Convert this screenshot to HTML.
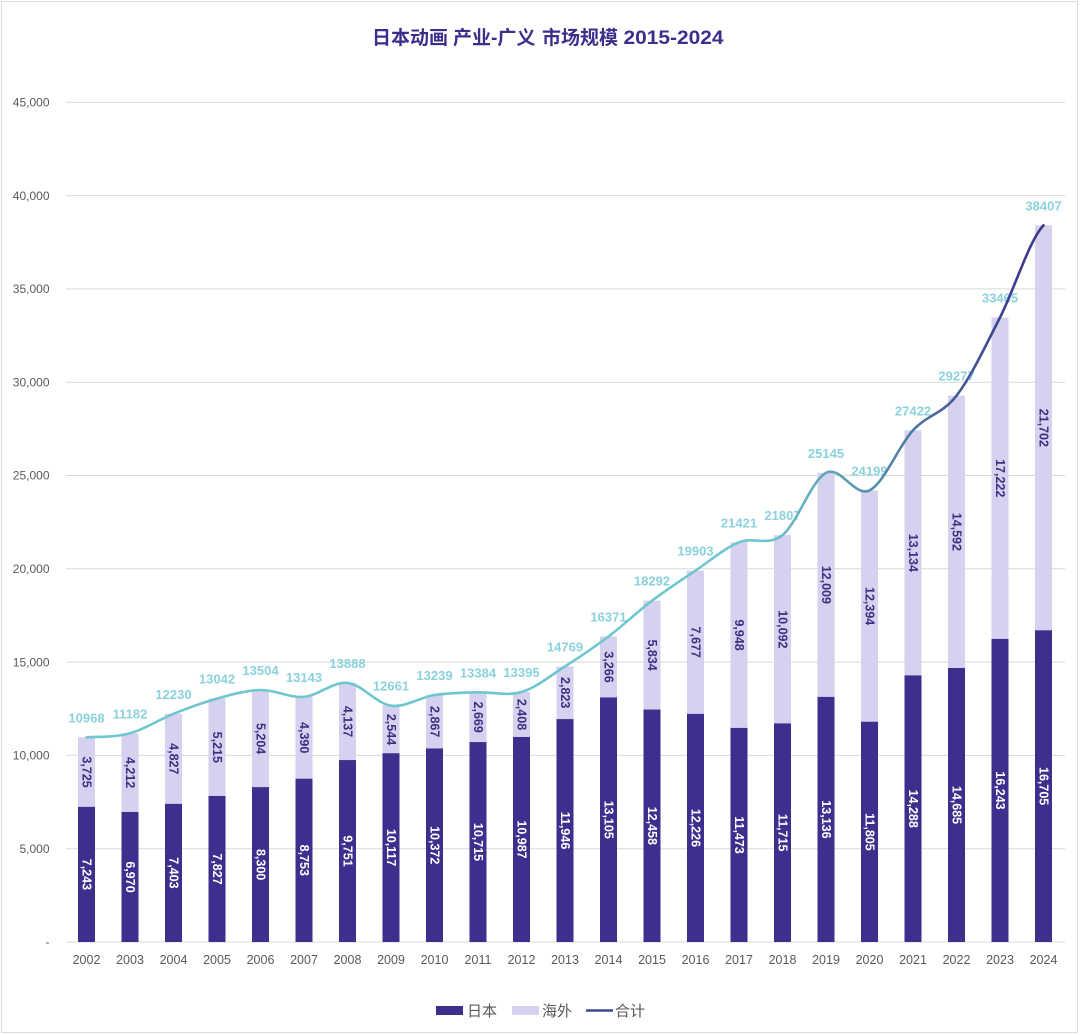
<!DOCTYPE html>
<html><head><meta charset="utf-8"><style>
html,body{margin:0;padding:0;background:#fff;}
svg{display:block;}
text{font-family:"Liberation Sans","Noto Sans CJK SC",sans-serif;}
</style></head><body>
<svg width="1080" height="1035" viewBox="0 0 1080 1035" xmlns="http://www.w3.org/2000/svg">
<defs>
<linearGradient id="lg" gradientUnits="userSpaceOnUse" x1="760" y1="0" x2="1010" y2="0">
<stop offset="0" stop-color="#6fc6cf"/>
<stop offset="0.45" stop-color="#5690ab"/>
<stop offset="1" stop-color="#3c3c8c"/>
</linearGradient>
</defs>
<rect x="0" y="0" width="1080" height="1035" fill="#fff"/>
<rect x="1.5" y="1.5" width="1076" height="1031" fill="none" stroke="#dcdcdc" stroke-width="1"/>

<!-- title -->
<g font-weight="bold" font-size="19" fill="#3b2f8c">
<text x="372" y="44">日本动画</text>
<text x="453" y="44">产业-广义</text>
<text x="542" y="44">市场规模</text>
<text x="623.5" y="44" textLength="100" lengthAdjust="spacingAndGlyphs">2015-2024</text>
</g>

<!-- gridlines -->
<g stroke="#d9d9d9" stroke-width="1">
<line x1="66" y1="102.3" x2="1065" y2="102.3"/>
<line x1="66" y1="195.6" x2="1065" y2="195.6"/>
<line x1="66" y1="288.9" x2="1065" y2="288.9"/>
<line x1="66" y1="382.2" x2="1065" y2="382.2"/>
<line x1="66" y1="475.5" x2="1065" y2="475.5"/>
<line x1="66" y1="568.8" x2="1065" y2="568.8"/>
<line x1="66" y1="662.1" x2="1065" y2="662.1"/>
<line x1="66" y1="755.4" x2="1065" y2="755.4"/>
<line x1="66" y1="848.7" x2="1065" y2="848.7"/>
<line x1="66" y1="942" x2="1065" y2="942"/>
</g>

<!-- y labels -->
<g font-size="12" fill="#595959" text-anchor="end">
<text x="49.5" y="106.5">45,000</text>
<text x="49.5" y="199.8">40,000</text>
<text x="49.5" y="293.1">35,000</text>
<text x="49.5" y="386.4">30,000</text>
<text x="49.5" y="479.7">25,000</text>
<text x="49.5" y="573">20,000</text>
<text x="49.5" y="666.3">15,000</text>
<text x="49.5" y="759.6">10,000</text>
<text x="49.5" y="852.9">5,000</text>
<text x="49.5" y="946">-</text>
</g>

<!-- bars light -->
<g fill="#d5d1ef">
<rect x="78" y="737.3" width="17" height="69.55"/>
<rect x="121.5" y="733.3" width="17" height="78.64"/>
<rect x="165" y="713.8" width="17" height="90.06"/>
<rect x="208.5" y="698.6" width="17" height="97.35"/>
<rect x="252" y="690.0" width="17" height="97.12"/>
<rect x="295.5" y="696.8" width="17" height="81.87"/>
<rect x="339" y="682.9" width="17" height="77.15"/>
<rect x="382.5" y="705.7" width="17" height="47.52"/>
<rect x="426" y="695.0" width="17" height="53.46"/>
<rect x="469.5" y="692.3" width="17" height="49.76"/>
<rect x="513" y="692.0" width="17" height="44.98"/>
<rect x="556.5" y="666.4" width="17" height="52.69"/>
<rect x="600" y="636.5" width="17" height="60.96"/>
<rect x="643.5" y="600.7" width="17" height="108.83"/>
<rect x="687" y="570.6" width="17" height="143.26"/>
<rect x="730.5" y="542.3" width="17" height="185.61"/>
<rect x="774" y="535.1" width="17" height="188.3"/>
<rect x="817.5" y="472.8" width="17" height="224.08"/>
<rect x="861" y="490.4" width="17" height="231.32"/>
<rect x="904.5" y="430.3" width="17" height="245.09"/>
<rect x="948" y="395.7" width="17" height="272.28"/>
<rect x="991.5" y="317.5" width="17" height="321.41"/>
<rect x="1035" y="225.3" width="17" height="404.98"/>
</g>
<!-- bars dark -->
<g fill="#3d2f8e">
<rect x="78" y="806.85" width="17" height="135.15"/>
<rect x="121.5" y="811.94" width="17" height="130.06"/>
<rect x="165" y="803.86" width="17" height="138.14"/>
<rect x="208.5" y="795.95" width="17" height="146.05"/>
<rect x="252" y="787.12" width="17" height="154.88"/>
<rect x="295.5" y="778.67" width="17" height="163.33"/>
<rect x="339" y="760.05" width="17" height="181.95"/>
<rect x="382.5" y="753.22" width="17" height="188.78"/>
<rect x="426" y="748.46" width="17" height="193.54"/>
<rect x="469.5" y="742.06" width="17" height="199.94"/>
<rect x="513" y="736.98" width="17" height="205.02"/>
<rect x="556.5" y="719.09" width="17" height="222.91"/>
<rect x="600" y="697.46" width="17" height="244.54"/>
<rect x="643.5" y="709.53" width="17" height="232.47"/>
<rect x="687" y="713.86" width="17" height="228.14"/>
<rect x="730.5" y="727.91" width="17" height="214.09"/>
<rect x="774" y="723.40" width="17" height="218.6"/>
<rect x="817.5" y="696.88" width="17" height="245.12"/>
<rect x="861" y="721.72" width="17" height="220.28"/>
<rect x="904.5" y="675.39" width="17" height="266.61"/>
<rect x="948" y="667.98" width="17" height="274.02"/>
<rect x="991.5" y="638.91" width="17" height="303.09"/>
<rect x="1035" y="630.28" width="17" height="311.72"/>
</g>

<!-- dark segment labels -->
<g font-size="12.5" font-weight="bold" fill="#ffffff" text-anchor="middle" dominant-baseline="central">
<text transform="translate(86.5,874.4) rotate(90)">7,243</text>
<text transform="translate(130,877.0) rotate(90)">6,970</text>
<text transform="translate(173.5,872.9) rotate(90)">7,403</text>
<text transform="translate(217,869.0) rotate(90)">7,827</text>
<text transform="translate(260.5,864.6) rotate(90)">8,300</text>
<text transform="translate(304,860.3) rotate(90)">8,753</text>
<text transform="translate(347.5,851.0) rotate(90)">9,751</text>
<text transform="translate(391,847.6) rotate(90)">10,117</text>
<text transform="translate(434.5,845.2) rotate(90)">10,372</text>
<text transform="translate(478,842.0) rotate(90)">10,715</text>
<text transform="translate(521.5,839.5) rotate(90)">10,987</text>
<text transform="translate(565,830.5) rotate(90)">11,946</text>
<text transform="translate(608.5,819.7) rotate(90)">13,105</text>
<text transform="translate(652,825.8) rotate(90)">12,458</text>
<text transform="translate(695.5,827.9) rotate(90)">12,226</text>
<text transform="translate(739,835.0) rotate(90)">11,473</text>
<text transform="translate(782.5,832.7) rotate(90)">11,715</text>
<text transform="translate(826,819.4) rotate(90)">13,136</text>
<text transform="translate(869.5,831.9) rotate(90)">11,805</text>
<text transform="translate(913,808.7) rotate(90)">14,288</text>
<text transform="translate(956.5,805.0) rotate(90)">14,685</text>
<text transform="translate(1000,790.5) rotate(90)">16,243</text>
<text transform="translate(1043.5,786.1) rotate(90)">16,705</text>
</g>
<!-- light segment labels -->
<g font-size="12.5" font-weight="bold" fill="#3a3082" text-anchor="middle" dominant-baseline="central">
<text transform="translate(86.5,772.1) rotate(90)">3,725</text>
<text transform="translate(130,772.6) rotate(90)">4,212</text>
<text transform="translate(173.5,758.8) rotate(90)">4,827</text>
<text transform="translate(217,747.3) rotate(90)">5,215</text>
<text transform="translate(260.5,738.6) rotate(90)">5,204</text>
<text transform="translate(304,737.7) rotate(90)">4,390</text>
<text transform="translate(347.5,721.5) rotate(90)">4,137</text>
<text transform="translate(391,729.5) rotate(90)">2,544</text>
<text transform="translate(434.5,721.7) rotate(90)">2,867</text>
<text transform="translate(478,717.2) rotate(90)">2,669</text>
<text transform="translate(521.5,714.5) rotate(90)">2,408</text>
<text transform="translate(565,692.7) rotate(90)">2,823</text>
<text transform="translate(608.5,667.0) rotate(90)">3,266</text>
<text transform="translate(652,655.1) rotate(90)">5,834</text>
<text transform="translate(695.5,642.2) rotate(90)">7,677</text>
<text transform="translate(739,635.1) rotate(90)">9,948</text>
<text transform="translate(782.5,629.3) rotate(90)">10,092</text>
<text transform="translate(826,584.8) rotate(90)">12,009</text>
<text transform="translate(869.5,606.1) rotate(90)">12,394</text>
<text transform="translate(913,552.8) rotate(90)">13,134</text>
<text transform="translate(956.5,531.8) rotate(90)">14,592</text>
<text transform="translate(1000,478.2) rotate(90)">17,222</text>
<text transform="translate(1043.5,427.8) rotate(90)">21,702</text>
</g>

<!-- total labels -->
<g font-size="13" font-weight="bold" fill="#8ad2dc" text-anchor="middle">
<text x="86.5" y="722.3">10968</text>
<text x="130" y="718.3">11182</text>
<text x="173.5" y="698.8">12230</text>
<text x="217" y="683.6">13042</text>
<text x="260.5" y="675.0">13504</text>
<text x="304" y="681.8">13143</text>
<text x="347.5" y="667.9">13888</text>
<text x="391" y="690.7">12661</text>
<text x="434.5" y="680.0">13239</text>
<text x="478" y="677.3">13384</text>
<text x="521.5" y="677.0">13395</text>
<text x="565" y="651.4">14769</text>
<text x="608.5" y="621.5">16371</text>
<text x="652" y="585.7">18292</text>
<text x="695.5" y="555.6">19903</text>
<text x="739" y="527.3">21421</text>
<text x="782.5" y="520.1">21807</text>
<text x="826" y="457.8">25145</text>
<text x="869.5" y="475.4">24199</text>
<text x="913" y="415.3">27422</text>
<text x="956.5" y="380.7">29277</text>
<text x="1000" y="302.5">33465</text>
<text x="1043.5" y="210.3">38407</text>
</g>

<!-- total line -->
<path fill="none" stroke="url(#lg)" stroke-width="2.6" stroke-linecap="round" stroke-linejoin="round"
d="M86.5,737.3 C101,736.6 115.5,737.2 130,733.3 C144.5,729.4 159,719.6 173.5,713.8 C188,708.0 202.5,702.6 217,698.6 C231.5,694.6 246,690.3 260.5,690.0 C275,689.7 289.5,698.0 304,696.8 C318.5,695.6 333,681.4 347.5,682.9 C362,684.4 376.5,703.7 391,705.7 C405.5,707.7 420,697.2 434.5,695.0 C449,692.8 463.5,692.8 478,692.3 C492.5,691.8 507,696.3 521.5,692.0 C536,687.7 550.5,675.7 565,666.4 C579.5,657.2 594,647.5 608.5,636.5 C623,625.6 637.5,611.7 652,600.7 C666.5,589.7 681,580.3 695.5,570.6 C710,560.9 724.5,548.2 739,542.3 C753.5,536.4 768,546.7 782.5,535.1 C797,523.5 811.5,480.3 826,472.8 C840.5,465.4 855,497.5 869.5,490.4 C884,483.3 898.5,446.1 913,430.3 C927.5,414.5 942,414.5 956.5,395.7 C971,376.9 985.5,345.9 1000,317.5 C1014.5,289.1 1029,240.7 1043.5,225.3"/>

<!-- x labels -->
<g font-size="12.5" fill="#595959" text-anchor="middle">
<text x="86.5" y="964">2002</text>
<text x="130" y="964">2003</text>
<text x="173.5" y="964">2004</text>
<text x="217" y="964">2005</text>
<text x="260.5" y="964">2006</text>
<text x="304" y="964">2007</text>
<text x="347.5" y="964">2008</text>
<text x="391" y="964">2009</text>
<text x="434.5" y="964">2010</text>
<text x="478" y="964">2011</text>
<text x="521.5" y="964">2012</text>
<text x="565" y="964">2013</text>
<text x="608.5" y="964">2014</text>
<text x="652" y="964">2015</text>
<text x="695.5" y="964">2016</text>
<text x="739" y="964">2017</text>
<text x="782.5" y="964">2018</text>
<text x="826" y="964">2019</text>
<text x="869.5" y="964">2020</text>
<text x="913" y="964">2021</text>
<text x="956.5" y="964">2022</text>
<text x="1000" y="964">2023</text>
<text x="1043.5" y="964">2024</text>
</g>

<!-- legend -->
<rect x="436" y="1006" width="27" height="9" fill="#3d2f8e"/>
<text x="467" y="1016" font-size="15" fill="#595959">日本</text>
<rect x="512" y="1006" width="27" height="9" fill="#d5d1ef"/>
<text x="542" y="1016" font-size="15" fill="#595959">海外</text>
<line x1="586" y1="1010.5" x2="613" y2="1010.5" stroke="#3f4a92" stroke-width="2.5"/>
<text x="615" y="1016" font-size="15" fill="#595959">合计</text>
</svg>
</body></html>
